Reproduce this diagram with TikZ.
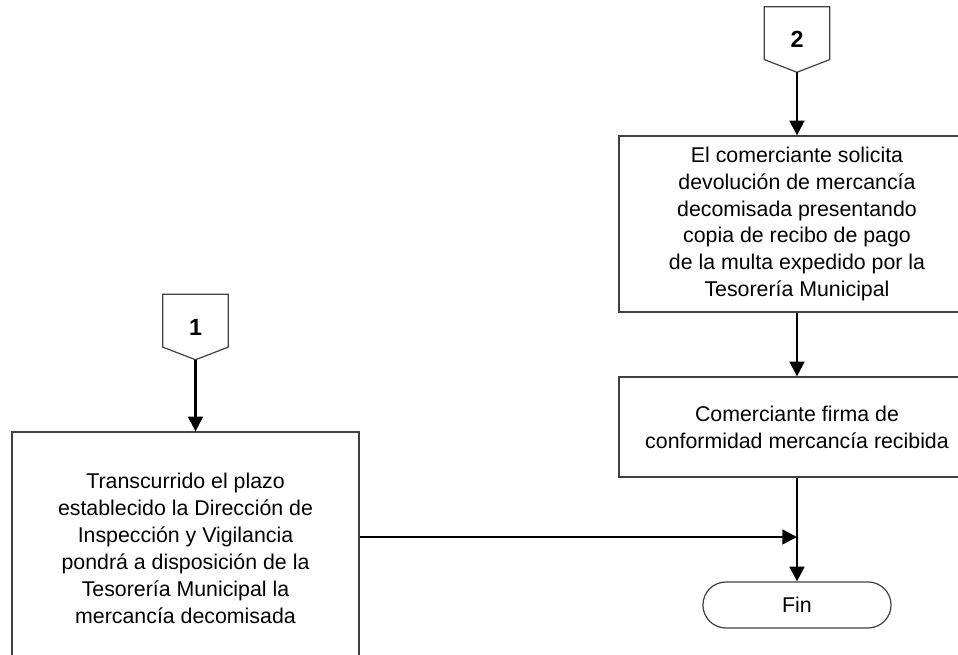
\documentclass[tikz,border=0pt]{standalone}
\usepackage{fontspec}
\setmainfont{Liberation Sans}
\usetikzlibrary{arrows.meta,shapes.misc}

\def\pentagon#1{\draw [thin box] (#1.north west) -- (#1.north east)
  -- ([yshift=9.5pt]#1.south east) -- (#1.south)
  -- ([yshift=9.5pt]#1.south west) -- cycle ;}

\tikzset{
  thin box/.style={draw=black!75,line width=0.9pt},
  proc/.style={thin box,minimum width=267pt,align=center,
    font=\fontsize{16}{20.2}\selectfont},
  term/.style={thin box,rounded rectangle,minimum width=147.75pt,
    minimum height=34.5pt,font=\fontsize{16}{19}\selectfont},
  offpg/.style={minimum width=48.75pt,minimum height=48.75pt,inner sep=0pt,
    font=\fontsize{17.5}{20}\selectfont\bfseries},
  flow/.style={line width=1.8pt,-{Triangle[length=11pt,width=11pt]}},
}

\begin{document}
\begin{tikzpicture}[x=0.75pt,y=-0.75pt]
\path [use as bounding box,clip] (0,0) rectangle (958,655) ;

% right column, boxes run off the page edge
\node [offpg] (off2) at (797,39.5) {2} ;
\pentagon{off2}
\node [proc,minimum height=132pt] (sol) at (797,224)
  {El comerciante solicita\\ devolución de mercancía\\ decomisada presentando\\
   copia de recibo de pago\\ de la multa expedido por la\\ Tesorería Municipal} ;
\node [proc,minimum height=75pt] (firma) at (797,427)
  {Comerciante firma de\\ conformidad mercancía recibida} ;
\node [term] (fin) at (797,605) {Fin} ;

% left column
\node [offpg] (off1) at (195.5,327) {1} ;
\pentagon{off1}
\node [proc,minimum width=260.25pt,minimum height=174.75pt] (trans) at (185.5,548.5)
  {Transcurrido el plazo\\ establecido la Dirección de\\ Inspección y Vigilancia\ \ \\
   pondrá a disposición de la\\ Tesorería Municipal la\\ mercancía decomisada} ;
\coordinate (join) at (797,537) ;

\draw [flow] (off2.south) -- (sol.north) ;
\draw [flow] (sol.south) -- (firma.north) ;
\draw [flow] (firma.south) -- (fin.north) ;
\draw [flow] (off1.south) -- (off1.south |- trans.north) ;
\draw [flow] (trans.east |- join) -- (join) ;
\end{tikzpicture}
\end{document}
